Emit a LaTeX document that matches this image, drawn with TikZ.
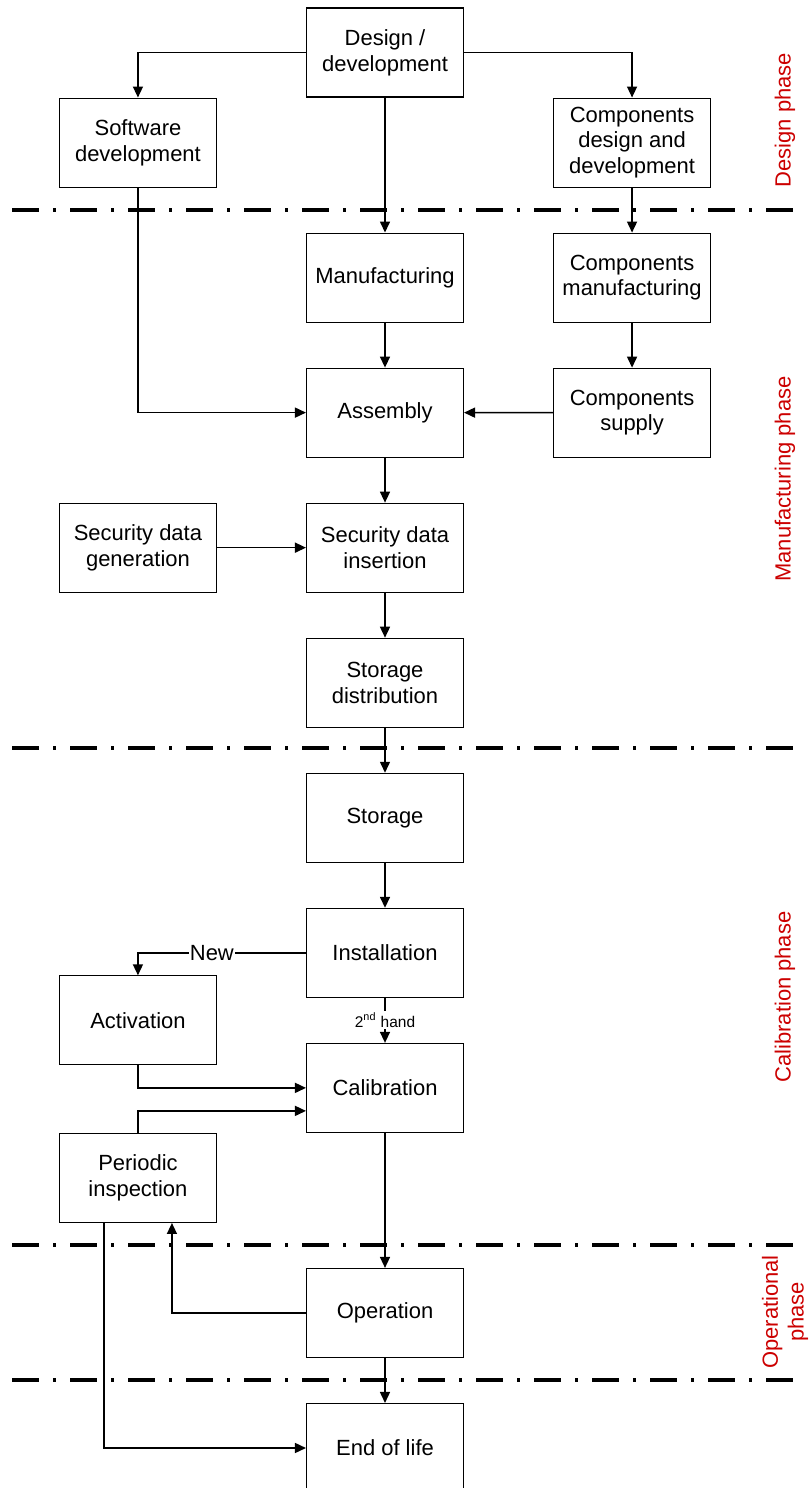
\documentclass[tikz,border=0pt]{standalone}
\usepackage{fontspec}
\setmainfont{Liberation Sans}
\usetikzlibrary{positioning,arrows.meta}
\definecolor{phasered}{RGB}{204,0,0}
\begin{document}
\begin{tikzpicture}[
			node distance=0.9cm and 1.78cm,
			box/.style={draw, line width=0.6pt, minimum width=3.14cm, minimum height=1.78cm, align=center, inner sep=2pt, font=\fontsize{12.5}{14.6}\selectfont},
			flow/.style={line width=0.85pt, -{Triangle[length=2.2mm,width=2mm]}},
			phaseline/.style={line width=2.3pt, dash pattern=on 0.54cm off 0.28cm on 0.06cm off 0.28cm},
			phase/.style={rotate=90, text=phasered, align=center, font=\fontsize{12.5}{14.6}\selectfont}
		]
		\useasboundingbox (0,0) rectangle (16.2,-29.76);
		\node[box] (design) at (7.7,-1.05) {Design /\\development};
		\node[box, below left=0pt and 1.78cm of design] (software) {Software\\development};
		\node[box, below right=0pt and 1.78cm of design] (compdesign) {Components\\design and\\development};
		\node[box, below=2.7cm of design] (manuf) {Manufacturing};
		\node[box, below=of compdesign] (compmanuf) {Components\\manufacturing};
		\node[box, below=of manuf] (assembly) {Assembly};
		\node[box, below=of compmanuf] (compsupply) {Components\\supply};
		\node[box, below=of assembly] (secins) {Security data\\insertion};
		\node[box, left=of secins] (secgen) {Security data\\generation};
		\node[box, below=of secins] (storedist) {Storage\\distribution};
		\node[box, below=of storedist] (storage) {Storage};
		\node[box, below=of storage] (install) {Installation};
		\node[box, below=of install] (calib) {Calibration};
		\node[box, left=of install, yshift=-1.35cm] (activ) {Activation};
		\node[box, below left=0pt and 1.78cm of calib] (periodic) {Periodic\\inspection};
		\node[box, below=2.7cm of calib] (oper) {Operation};
		\node[box, below=of oper] (eol) {End of life};

		\draw[phaseline] (0.24,-4.2) -- (16.06,-4.2);
		\draw[phaseline] (0.24,-14.96) -- (16.06,-14.96);
		\draw[phaseline] (0.24,-24.9) -- (16.06,-24.9);
		\draw[phaseline] (0.24,-27.6) -- (16.06,-27.6);

		\node[phase] (designph) at (15.7,-2.4) {Design phase};
		\node[phase] (manufph) at (15.7,-9.58) {Manufacturing phase};
		\node[phase] (calibph) at (15.7,-19.94) {Calibration phase};
		\node[phase] (operph) at (15.7,-26.24) {Operational\\phase};

		\draw[flow] (design.west) -| (software.north);
		\draw[flow] (design.east) -| (compdesign.north);
		\draw[flow] (design) -- (manuf);
		\draw[flow] (compdesign) -- (compmanuf);
		\draw[flow] (manuf) -- (assembly);
		\draw[flow] (compmanuf) -- (compsupply);
		\draw[flow] (compsupply) -- (assembly);
		\draw[flow] (software.south) |- (assembly.west);
		\draw[flow] (assembly) -- (secins);
		\draw[flow] (secgen) -- (secins);
		\draw[flow] (secins) -- (storedist);
		\draw[flow] (storedist) -- (storage);
		\draw[flow] (storage) -- (install);
		\draw[flow] (install.west) -| node[pos=0.28, fill=white, inner sep=0.5pt, font=\fontsize{12.5}{14.6}\selectfont] {New} (activ.north);
		\draw[flow] (install) -- node[fill=white, inner sep=1pt, font=\fontsize{8.8}{10}\selectfont] {2\textsuperscript{nd} hand} (calib);
		\draw[flow] (activ.south) |- (calib.west);
		\draw[flow] (periodic.north) |- ([yshift=-0.46cm]calib.west);
		\draw[flow] (calib) -- (oper);
		\draw[flow] (oper.west) -| ([xshift=0.68cm]periodic.south);
		\draw[flow] ([xshift=-0.68cm]periodic.south) |- (eol.west);
		\draw[flow] (oper) -- (eol);
	\end{tikzpicture}
\end{document}
